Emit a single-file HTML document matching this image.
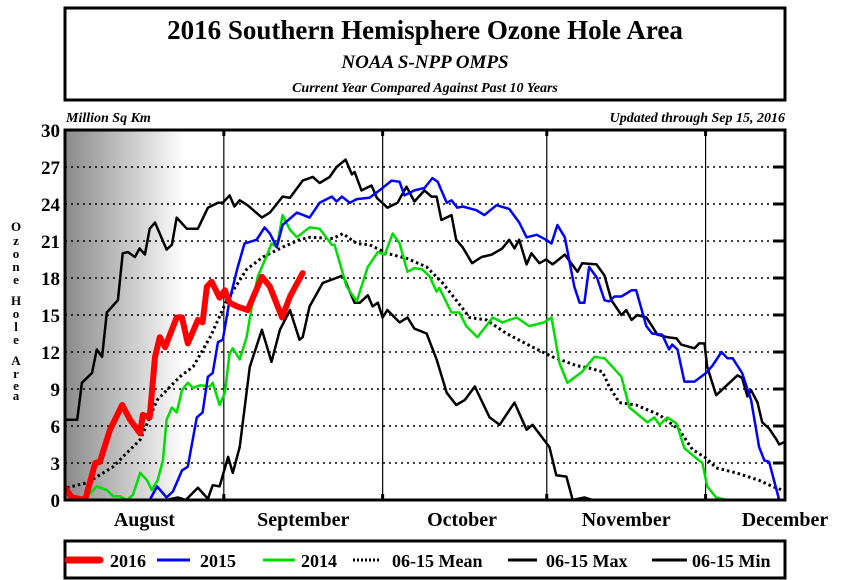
<!DOCTYPE html>
<html><head><meta charset="utf-8"><style>
html,body{margin:0;padding:0;background:#fff;width:847px;height:580px;overflow:hidden}
svg text{font-family:"Liberation Serif",serif;font-weight:bold}
</style></head><body>
<svg id="chart" width="847" height="580" viewBox="0 0 847 580" xmlns="http://www.w3.org/2000/svg">
<defs>
<linearGradient id="shade" x1="0" x2="1" y1="0" y2="0">
<stop offset="0" stop-color="#8a8a8a"/><stop offset="1" stop-color="#ffffff"/>
</linearGradient>
<clipPath id="plotclip"><rect x="65" y="130" width="720" height="370"/></clipPath>
</defs>
<rect x="65" y="8" width="720" height="92" fill="#fff" stroke="#000" stroke-width="3"/>
<text x="425" y="39" text-anchor="middle" font-size="27">2016 Southern Hemisphere Ozone Hole Area</text>
<text x="425" y="68" text-anchor="middle" font-size="19" font-style="italic">NOAA S-NPP OMPS</text>
<text x="425" y="92" text-anchor="middle" font-size="14" font-style="italic">Current Year Compared Against Past 10 Years</text>
<text x="66" y="122" font-size="14" font-style="italic">Million Sq Km</text>
<text x="785" y="122" text-anchor="end" font-size="14" font-style="italic">Updated through Sep 15, 2016</text>
<rect x="65" y="130" width="120" height="370" fill="url(#shade)"/>
<g id="grid"></g>
<g id="series" clip-path="url(#plotclip)"></g>
<rect x="65" y="130" width="720" height="370" fill="none" stroke="#000" stroke-width="3"/>
<g id="axes"></g>
<g font-size="13">
<text x="16" y="231" text-anchor="middle">O</text><text x="16" y="245" text-anchor="middle">z</text><text x="16" y="258" text-anchor="middle">o</text><text x="16" y="271" text-anchor="middle">n</text><text x="16" y="284" text-anchor="middle">e</text>
<text x="16" y="305" text-anchor="middle">H</text><text x="16" y="318" text-anchor="middle">o</text><text x="16" y="331" text-anchor="middle">l</text><text x="16" y="344" text-anchor="middle">e</text>
<text x="16" y="365" text-anchor="middle">A</text><text x="16" y="378" text-anchor="middle">r</text><text x="16" y="390" text-anchor="middle">e</text><text x="16" y="400" text-anchor="middle">a</text>
</g>
<rect x="65" y="541" width="720" height="37" fill="#fff" stroke="#000" stroke-width="3"/>
<g><line x1="68" y1="560" x2="100" y2="560" stroke="#ff0000" stroke-width="7" stroke-linecap="round"/><text x="110" y="567" font-size="18">2016</text></g>
<g><line x1="157" y1="560" x2="190" y2="560" stroke="#0000ff" stroke-width="3"/><text x="200" y="567" font-size="18">2015</text></g>
<g><line x1="263" y1="560" x2="295" y2="560" stroke="#00dd00" stroke-width="3"/><text x="301" y="567" font-size="18">2014</text></g>
<g><line x1="353" y1="560" x2="381" y2="560" stroke="#000" stroke-width="3" stroke-dasharray="2,2"/><text x="392" y="567" font-size="18">06-15 Mean</text></g>
<g><line x1="508" y1="560" x2="537" y2="560" stroke="#000" stroke-width="3"/><text x="546" y="567" font-size="18">06-15 Max</text></g>
<g><line x1="652" y1="560" x2="687" y2="560" stroke="#000" stroke-width="3"/><text x="692" y="567" font-size="18">06-15 Min</text></g>
</svg>
<script>
const yTicks = [0,3,6,9,12,15,18,21,24,27,30];
const monthNames = ["August","September","October","November","December"];
const monthStartDays = [0,31,61,92,122];
const monthLabelDays = [16,46,76,107,137];
const s2016 = [[1,1],[2.3,0.2],[4.8,0],[6.7,3],[7.6,3.1],[9.5,5.7],[11.8,7.7],[13.3,6.5],[15.2,5.4],[15.7,6.9],[17,6.7],[18,11.6],[18.9,13.2],[19.9,12.4],[22.1,14.8],[23.1,14.8],[24.2,12.7],[26.1,14.6],[27,14.4],[27.8,17.3],[28.7,17.7],[30.2,16.4],[31.2,17],[32.1,16],[33.5,15.7],[35.5,15.4],[38.2,18.1],[39.7,17.3],[42,14.8],[43.5,16.5],[45.9,18.4]];
const s2015 = [[1,0],[17,0],[18.4,1.1],[20.2,0.2],[21.4,0.7],[23.1,2.4],[24.2,2.7],[25.9,6.7],[27,7.1],[28,10],[28.9,10.3],[29.9,12.8],[30.8,13],[32.1,16.2],[33.5,18.7],[34.9,20.8],[37.2,21.1],[38.7,22.1],[39.7,21.6],[41,20.5],[42.1,22.3],[44.8,23.3],[47.2,22.9],[49.1,24.1],[51.4,24.6],[52.3,24.2],[53.3,24.6],[54.8,24.1],[56.1,24.4],[58.5,24.5],[60.4,25.1],[62.7,25.9],[64.2,25.8],[65.1,24.7],[67,25.1],[68.9,25.3],[70.4,26.1],[71.4,25.8],[73.1,24.1],[74,24.3],[75.1,23.7],[76.1,23.8],[78.7,23.5],[80.2,23.1],[82.5,23.9],[84.9,23.6],[86.8,22.5],[88.2,21.3],[90.1,21.5],[91.9,21.1],[92.9,20.8],[94,22.3],[95.4,21.3],[97.2,17.3],[98.2,16],[99.1,16],[100,18.9],[101.5,18],[102.9,16.2],[103.8,16.1],[104.8,16.5],[106.1,16.5],[108,17],[108.9,17],[110.8,14.1],[111.9,13.5],[113.8,13.4],[115.1,12.2],[115.7,12.6],[116.7,12.2],[118,9.6],[119.9,9.6],[122.1,10.3],[123.3,10.9],[125,12],[126.1,11.5],[127.1,11.5],[128.9,10.3],[130.6,8.1],[132.1,4.3],[133.1,3.2],[134,3.1],[135.9,0],[137,0]];
const s2014 = [[1,0.6],[2.5,0.2],[4.8,0.1],[7,1.1],[8.9,0.8],[10.1,0.3],[11.4,0.3],[12.7,0],[13.8,0.4],[15.2,2.2],[16.5,1.6],[17.4,0.8],[18.5,1.6],[19.5,3.2],[20.2,6.5],[21.2,7.5],[22.1,7.1],[23.1,8.9],[24.2,9.5],[25.2,9.1],[26.5,9.3],[28.4,9.2],[28.9,9.5],[30.2,7.7],[31.2,8.7],[32.1,11.9],[32.7,12.3],[34,11.4],[35.3,13.2],[36.5,16.2],[37.4,18.1],[39.3,20],[40,20.8],[41,20.5],[42.1,23.1],[43.5,21.9],[44.8,21.3],[47.2,22.1],[49.1,22],[51.4,20.7],[51.9,20.7],[54.2,17.3],[56.1,16.1],[58.2,18.9],[60.1,20.1],[61.4,19.9],[62.9,21.6],[64.2,20.8],[65.7,18.5],[67,18.8],[68.5,18.7],[69.9,18.1],[71.2,16.9],[71.7,17.2],[74,15.2],[75.5,15.2],[76.8,14.1],[78.9,13.2],[81.8,14.8],[83.6,14.4],[86.3,14.8],[88.7,14.1],[91.5,14.4],[92.9,14.8],[94.4,11.1],[95.9,9.5],[98.7,10.4],[101,11.6],[102.9,11.5],[106.1,10],[107.6,7.5],[111,6.3],[112.3,6.7],[113.3,6.1],[114.8,6.7],[116.5,6.2],[118,4.2],[120.2,3.4],[121.4,3],[122.3,1.1],[124,0.2],[125.9,0],[137,0]];
const sMean = [[1.4,1],[5.2,1.4],[10.1,2.7],[15.2,4.9],[18.4,8.1],[22.7,10],[25.2,10.8],[28.4,13.2],[31.6,16.2],[35.3,18.7],[38.4,19.7],[42.1,20.5],[45.3,21.1],[47.2,21.3],[51.6,21.2],[53.5,21.6],[56.1,20.8],[58.5,20.7],[61.8,20],[65.5,19.6],[69.3,18.9],[72.3,17.6],[74.9,16.2],[77.4,14.8],[80.6,14.6],[84.4,13.5],[89.3,12.4],[93.1,11.6],[97.6,10.9],[100,10.7],[102.5,10.4],[103.8,9.2],[105.7,7.9],[108.9,7.7],[113.3,6.9],[117,5.7],[119.5,4.1],[122.1,3.4],[124,2.6],[127.8,2.2],[132.1,1.6],[134.6,1.1],[136.5,0.8]];
const sMax = [[1,6.5],[3.3,6.5],[4.2,9.5],[6.1,10.3],[7,12.2],[8,11.6],[8.9,15.2],[11,16.2],[11.9,20],[12.9,20.1],[14.2,19.7],[15.1,20.4],[16.1,19.9],[17,22],[18,22.5],[20.2,20.3],[21.2,20.7],[22.1,22.9],[24,22],[26.1,22],[28,23.7],[29.9,24.1],[30.8,24.1],[32.1,24.7],[33,23.8],[34,24.3],[35.5,23.9],[38.2,22.9],[39.7,23.3],[42.1,24.6],[43.5,24.5],[45.9,25.9],[47.8,26.2],[49.1,25.7],[51,26.2],[52.3,27],[54,27.6],[55.2,26.4],[55.7,26.6],[57,25.1],[58.9,25.5],[59.9,24.5],[61.9,23.7],[63.8,24.1],[65.5,25.4],[67,24.2],[68.9,25.1],[70.2,24.6],[71.2,24.6],[72.1,22.7],[74,23.1],[74.9,21.1],[76.1,20.5],[77.9,19.2],[79.7,19.7],[81.6,19.9],[83.6,20.4],[84.9,21.1],[85.9,20.4],[86.8,21.1],[88.2,19.1],[89.1,20],[90.6,19.2],[91.9,19.5],[93.1,19.1],[95.4,19.9],[97.8,18.5],[98.7,19.2],[101.4,19.1],[102.9,18.2],[104.2,16.2],[106.1,15],[107,15.4],[108,14.6],[109.1,15],[110.8,14.8],[111.9,14.1],[112.9,13.4],[114.8,13.2],[116.5,13.1],[117.4,12.6],[119.9,12.3],[120.8,12.7],[121.8,12.7],[122.3,10.8],[124,8.5],[125.5,9.1],[128,10.1],[128.9,9.9],[129.9,8.4],[130.6,8.9],[131.8,7.9],[132.7,6.3],[134,5.8],[135.4,4.9],[135.9,4.5],[136.9,4.7]];
const sMin = [[1,0],[17,0],[20.2,0],[22.3,0.2],[23.8,0],[26.1,1],[28,0.1],[28.9,1.2],[30.2,1.1],[31.8,3.5],[32.7,2.2],[34,4.3],[35.9,10.8],[38.2,13.8],[40,11.2],[41.6,13.8],[43.5,15.4],[45.3,13],[45.9,13.2],[47.2,15.7],[49.7,17.6],[53.5,18.2],[55.7,16],[56.7,16],[58.2,16.6],[59.1,15.7],[60.1,16],[61,14.8],[61.9,15.4],[64.2,14.4],[65.7,14.8],[67,13.9],[69.3,13.5],[71.2,11.4],[73.1,8.7],[74.9,7.7],[76.5,8.1],[78.4,9.2],[81.2,6.7],[83.1,6.1],[85.9,7.9],[88.2,5.7],[89.3,6.1],[92.5,4.3],[93.8,2],[95.7,1.9],[96.9,0],[99.1,0.2],[100.6,0],[137,0]];

const NS = "http://www.w3.org/2000/svg";
const X0 = 65, X1 = 785, Y0 = 500, Y1 = 130, D0 = 1, D1 = 137, V1 = 30;
function xs(d){ return X0 + (d - D0) * (X1 - X0) / (D1 - D0); }
function ys(v){ return Y0 - v * (Y0 - Y1) / V1; }
function mk(tag, attrs, parent){ const e = document.createElementNS(NS, tag); for (const k in attrs) e.setAttribute(k, attrs[k]); parent.appendChild(e); return e; }

const grid = document.getElementById("grid"), axes = document.getElementById("axes"), series = document.getElementById("series");
yTicks.forEach(function(t){
  const y = ys(t);
  if (t > 0 && t < 30) {
    const g = mk("line", {x1: X0, x2: X1 - 12, y1: y, y2: y, stroke: "#000", "stroke-width": 1.5, "stroke-dasharray": "2,4"}, grid);
    
    
    const tk = mk("line", {x1: X1 - 12, x2: X1, y1: y, y2: y, stroke: "#000", "stroke-width": 3}, axes);
    
    
  }
  const lb = mk("text", {x: 60, y: y + 7, "text-anchor": "end", "font-size": 19}, axes);
  lb.textContent = t;
  
  
});
monthStartDays.forEach(function(d){
  if (d <= D0) return;
  const x = xs(d);
  const l = mk("line", {x1: x, x2: x, y1: Y1, y2: Y0, stroke: "#000", "stroke-width": 1.2}, grid);
  
  
  const t1 = mk("line", {x1: x, x2: x, y1: Y1, y2: Y1 + 6, stroke: "#000", "stroke-width": 3}, axes);
  
  
  const t2 = mk("line", {x1: x, x2: x, y1: Y0 - 6, y2: Y0, stroke: "#000", "stroke-width": 3}, axes);
  
  
});
monthNames.forEach(function(m, i){
  const t = mk("text", {x: xs(monthLabelDays[i]), y: 526, "text-anchor": "middle", "font-size": 20}, axes);
  t.textContent = m;
  
  
});
function pathOf(arr){ return arr.map(function(p, i){ return (i ? "L" : "M") + xs(p[0]).toFixed(1) + "," + ys(p[1]).toFixed(1); }).join(""); }
function draw(arr, color, w, name, dash){
  const a = {d: pathOf(arr), fill: "none", stroke: color, "stroke-width": w, "stroke-linejoin": "round", "stroke-linecap": "round"};
  if (dash) { a["stroke-dasharray"] = dash; a["stroke-linecap"] = "butt"; }
  const p = mk("path", a, series);
  
  
}
draw(sMin, "#000", 2.5, "line-0615-min");
draw(sMax, "#000", 2.5, "line-0615-max");
draw(sMean, "#000", 3, "line-0615-mean", "2.5,3");
draw(s2014, "#00dd00", 2.5, "line-2014");
draw(s2015, "#0000ff", 2.5, "line-2015");
draw(s2016, "#ff0000", 6, "line-2016");
</script>
</body></html>
